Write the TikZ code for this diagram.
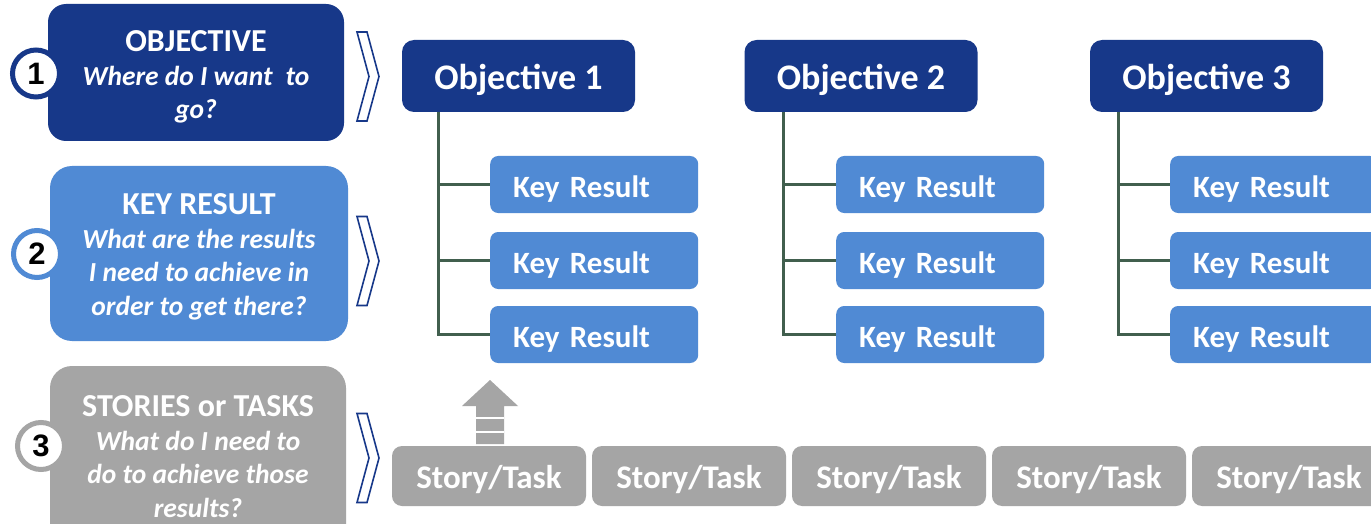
\documentclass[tikz,border=0pt]{standalone}
\usepackage{fontspec}
\setmainfont{Carlito}
\newfontfamily\numfont{Liberation Sans}
\definecolor{okrdark}{RGB}{23,56,137}
\definecolor{okrmid}{RGB}{80,138,212}
\definecolor{okrgray}{RGB}{165,165,165}
\definecolor{treeline}{RGB}{65,95,78}
\tikzset{
  panel/.style={rounded corners=20, inner sep=0},
  paneltext/.style={text=white, align=center, inner sep=0,
    font=\fontsize{27.5}{33.5}\selectfont\bfseries\itshape},
  numring/.style={circle, fill=white, line width=5, minimum size=47, inner sep=0,
    font=\numfont\bfseries\fontsize{31}{31}\selectfont},
  chevron/.style={draw=okrdark, fill=white, line width=1.6, line join=miter},
  objbox/.style={fill=okrdark, rounded corners=12, minimum width=233, minimum height=72,
    inner sep=0, text=white, text height=28, text depth=0,
    font=\bfseries\fontsize{36}{36}\selectfont},
  krbox/.style={fill=okrmid, rounded corners=8, minimum height=57, text width=162,
    inner xsep=23, inner ysep=0, align=left, text=white, text height=25, text depth=0,
    font=\bfseries\fontsize{31}{31}\selectfont},
  storybox/.style={fill=okrgray, rounded corners=10, minimum width=194, minimum height=60,
    inner sep=0, text=white, text height=25, text depth=0,
    font=\bfseries\fontsize{33}{33}\selectfont},
  tree/.style={draw=treeline, line width=3, line join=miter},
}
\newcommand\headline[1]{{\upshape\fontsize{32}{33.5}\selectfont #1}}
\begin{document}
\begin{tikzpicture}[x=1pt,y=-1pt]
\useasboundingbox (0,0) rectangle (1371,524);
\clip (0,0) rectangle (1371,524);
\fill[white] (0,0) rectangle (1371,524);

% level panels on the left
\node[panel, fill=okrdark, rounded corners=18, minimum width=296, minimum height=137] (p1) at (196,72.5) {};
\node[panel, fill=okrmid, rounded corners=22, minimum width=298, minimum height=175] (p2) at (199,253.5) {};
\node[panel, fill=okrgray, rounded corners=22, minimum width=296, minimum height=182] (p3) at (198,457) {};

\node[paneltext] (t1) at (196,77) {\headline{OBJECTIVE}\\Where do I want\hspace{0.25em} to\\go?};
\node[paneltext] (t2) at (199,257) {\headline{KEY RESULT}\\What are the results\\I need to achieve in\\order to get there?};
\node[paneltext] (t3) at (198,456.5) {\headline{STORIES or TASKS}\\What do I need to\\do to achieve those\\results?};

% numbered rings
\node[numring, draw=okrdark] (n1) at (36,73.5) {1};
\node[numring, draw=okrmid] (n2) at (37,254) {2};
\node[numring, draw=okrgray] (n3) at (41,446) {3};

% chevrons
\foreach \cy/\nm in {76.5/ch1, 261/ch2, 458/ch3}{
  \coordinate (\nm) at (368,\cy);
  \draw[chevron] (\nm) ++(-11,-44.5) -- ++(10,0) -- ++(12,44.5) -- ++(-12,44.5)
     -- ++(-10,0) -- ++(12,-44.5) -- cycle;
}

% objectives
\node[objbox] (o1) at (518.5,76) {Objective 1};
\node[objbox] (o2) at (861,76) {Objective 2};
\node[objbox] (o3) at (1206.5,76) {Objective 3};

% key results
\foreach \col/\kx in {1/490, 2/836, 3/1170}{
  \node[krbox, anchor=west] (kr\col1) at (\kx,184.5) {Key Result};
  \node[krbox, anchor=west] (kr\col2) at (\kx,260.5) {Key Result};
  \node[krbox, anchor=west] (kr\col3) at (\kx,334.5) {Key Result};
}

% tree connectors
\coordinate (r1) at (438,112);
\coordinate (r2) at (783,112);
\coordinate (r3) at (1118,112);
\foreach \col in {1,2,3}{
  \draw[tree] (r\col) |- (kr\col3.west);
  \draw[tree] (r\col |- kr\col1.west) -- (kr\col1.west);
  \draw[tree] (r\col |- kr\col2.west) -- (kr\col2.west);
}

% stories / tasks
\foreach \i/\sx in {1/489, 2/689, 3/889, 4/1089, 5/1289}{
  \node[storybox] (s\i) at (\sx,476) {Story/Task};
}

% striped arrow from the first story up to the key results
\fill[okrgray] (490,380) -- (518,406) -- (504,406) -- (504,444) -- (476,444)
   -- (476,406) -- (462,406) -- cycle;
\draw[white, line width=2] (476,417.5) -- (504,417.5);
\draw[white, line width=2] (476,432) -- (504,432);
\end{tikzpicture}
\end{document}
